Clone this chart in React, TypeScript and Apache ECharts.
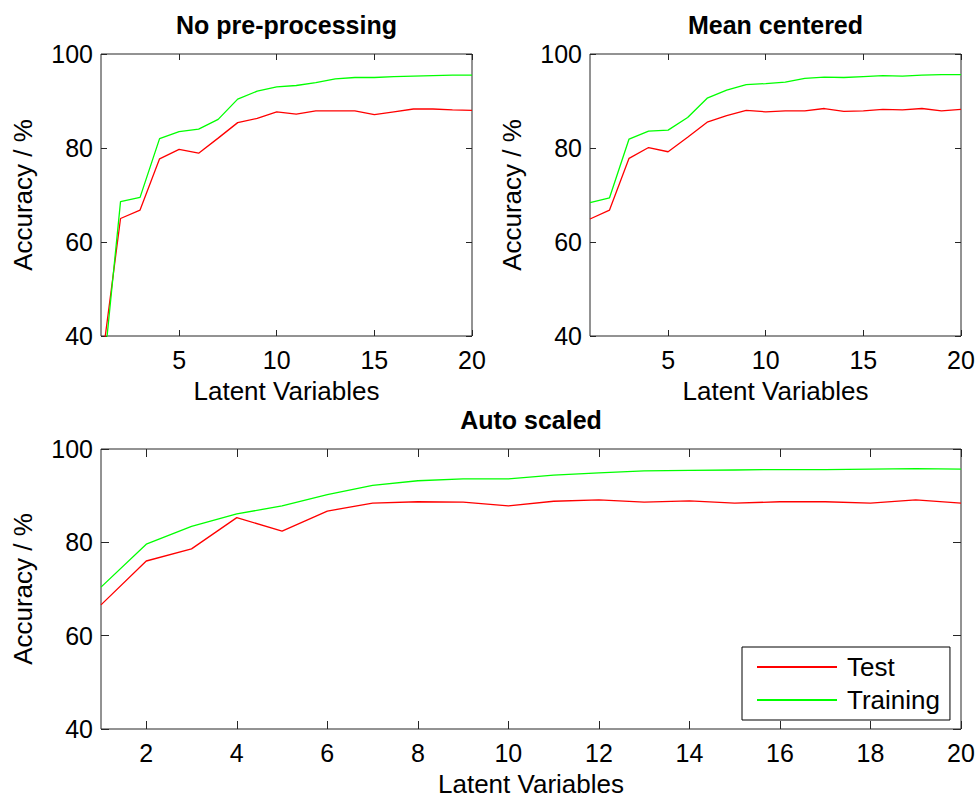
import React, { useEffect, useRef } from "react";
import * as echarts from "echarts";

const latentVariables = [1, 2, 3, 4, 5, 6, 7, 8, 9, 10, 11, 12, 13, 14, 15, 16, 17, 18, 19, 20];

const noPreTest = [33, 65.0, 66.8, 77.7, 79.7, 78.9, 82.1, 85.4, 86.3, 87.7, 87.2, 87.9, 87.9, 87.9, 87.1, 87.7, 88.3, 88.3, 88.1, 88.0];
const noPreTrain = [27, 68.6, 69.5, 82.0, 83.5, 84.0, 86.1, 90.4, 92.1, 93.0, 93.3, 93.9, 94.7, 95.0, 95.0, 95.2, 95.3, 95.4, 95.5, 95.5];
const meanTest = [64.9, 66.8, 77.8, 80.1, 79.2, 82.3, 85.5, 86.9, 88.0, 87.7, 87.9, 87.9, 88.4, 87.8, 87.9, 88.2, 88.1, 88.4, 87.9, 88.2];
const meanTrain = [68.4, 69.4, 81.9, 83.6, 83.8, 86.5, 90.6, 92.3, 93.5, 93.7, 94.0, 94.8, 95.1, 95.0, 95.2, 95.4, 95.3, 95.5, 95.6, 95.6];
const autoTest = [66.6, 76.0, 78.6, 85.3, 82.4, 86.7, 88.4, 88.7, 88.6, 87.8, 88.8, 89.1, 88.6, 88.9, 88.4, 88.7, 88.7, 88.4, 89.1, 88.4];
const autoTrain = [70.4, 79.6, 83.4, 86.1, 87.8, 90.2, 92.2, 93.2, 93.6, 93.6, 94.4, 94.9, 95.3, 95.4, 95.5, 95.6, 95.6, 95.7, 95.8, 95.7];

const topXTicks = [5, 10, 15, 20];
const bottomXTicks = [2, 4, 6, 8, 10, 12, 14, 16, 18, 20];
const yTicks = [40, 60, 80, 100];

const titles = ["No pre-processing", "Mean centered", "Auto scaled"];
const xName = "Latent Variables";
const yName = "Accuracy / %";
const seriesNames = ["Test", "Training"];

const FONT = "'Liberation Sans', Arial, sans-serif";
const AXIS_COLOR = "#262626";
const RED = "#ff0000";
const GREEN = "#00ff00";

export default function App() {
  const ref = useRef<HTMLDivElement>(null);

  useEffect(() => {
    if (!ref.current) return;
    const chart = echarts.init(ref.current, undefined, { renderer: "svg" });

    const grids = [
      { left: 101, top: 54, width: 371, height: 282 },
      { left: 590, top: 54, width: 371, height: 282 },
      { left: 101, top: 449, width: 860, height: 284 },
    ];
    const tickLens = [6, 6, 8];
    const xTickSets = [topXTicks, topXTicks, bottomXTicks];

    const xAxes: any[] = [];
    const yAxes: any[] = [];
    grids.forEach((g, i) => {
      xAxes.push({
        type: "value",
        gridIndex: i,
        min: 1,
        max: 20,
        position: "bottom",
        name: xName,
        nameLocation: "middle",
        nameGap: 42,
        nameTextStyle: { fontSize: 26, color: "#000", fontFamily: FONT },
        axisLine: { show: false },
        axisTick: { show: true, inside: true, length: tickLens[i], customValues: xTickSets[i], lineStyle: { color: AXIS_COLOR } },
        axisLabel: { show: true, customValues: xTickSets[i], margin: 11, fontSize: 25, color: "#000", fontFamily: FONT },
        splitLine: { show: false },
      });
      xAxes.push({
        type: "value",
        gridIndex: i,
        min: 1,
        max: 20,
        position: "top",
        axisLine: { show: false },
        axisTick: { show: true, inside: true, length: tickLens[i], customValues: xTickSets[i], lineStyle: { color: AXIS_COLOR } },
        axisLabel: { show: false },
        splitLine: { show: false },
      });
      yAxes.push({
        type: "value",
        gridIndex: i,
        min: 40,
        max: 100,
        position: "left",
        name: yName,
        nameLocation: "middle",
        nameRotate: 90,
        nameGap: 65,
        nameTextStyle: { fontSize: 26, color: "#000", fontFamily: FONT },
        axisLine: { show: false },
        axisTick: { show: true, inside: true, length: tickLens[i], customValues: yTicks, lineStyle: { color: AXIS_COLOR } },
        axisLabel: { show: true, customValues: yTicks, margin: 8, fontSize: 25, color: "#000", fontFamily: FONT },
        splitLine: { show: false },
      });
      yAxes.push({
        type: "value",
        gridIndex: i,
        min: 40,
        max: 100,
        position: "right",
        axisLine: { show: false },
        axisTick: { show: true, inside: true, length: tickLens[i], customValues: yTicks, lineStyle: { color: AXIS_COLOR } },
        axisLabel: { show: false },
        splitLine: { show: false },
      });
    });

    const pairs = (vals: number[]) => latentVariables.map((x, k) => [x, vals[k]]);
    const dataSets = [
      [noPreTest, noPreTrain],
      [meanTest, meanTrain],
      [autoTest, autoTrain],
    ];
    const series: any[] = [];
    dataSets.forEach((ds, i) => {
      ds.forEach((vals, j) => {
        series.push({
          type: "line",
          name: seriesNames[j],
          xAxisIndex: i * 2,
          yAxisIndex: i * 2,
          data: pairs(vals),
          symbol: "none",
          clip: true,
          lineStyle: { color: j === 0 ? RED : GREEN, width: 1.3 },
          itemStyle: { color: j === 0 ? RED : GREEN },
        });
      });
    });

    const titleCenters = [
      [286.5, 25],
      [775.5, 25],
      [531, 420],
    ];

    chart.setOption({
      animation: false,
      backgroundColor: "#ffffff",
      grid: grids.map((g) => ({ ...g, show: true, borderColor: AXIS_COLOR, borderWidth: 1, backgroundColor: "transparent" })),
      xAxis: xAxes,
      yAxis: yAxes,
      series,
      legend: {
        data: seriesNames,
        orient: "vertical",
        left: 742,
        top: 647,
        width: 206,
        borderColor: "#000",
        borderWidth: 1,
        backgroundColor: "#fff",
        padding: [7, 10, 7, 15],
        itemWidth: 80,
        itemHeight: 2,
        itemGap: 7,
        icon: "rect",
        selectedMode: false,
        textStyle: { fontSize: 26, color: "#000", fontFamily: FONT, padding: [0, 0, 0, 5], lineHeight: 26 },
      },
      graphic: titles.map((t, i) => ({
        type: "text",
        x: titleCenters[i][0],
        y: titleCenters[i][1],
        style: {
          text: t,
          fontSize: 25,
          fontWeight: "bold",
          fontFamily: FONT,
          fill: "#000",
          textAlign: "center",
          textVerticalAlign: "middle",
        },
      })),
    });

    return () => chart.dispose();
  }, []);

  return (
    <div
      ref={ref}
      style={{ position: "absolute", left: 0, top: 0, width: 979, height: 798, background: "#fff" }}
    />
  );
}
